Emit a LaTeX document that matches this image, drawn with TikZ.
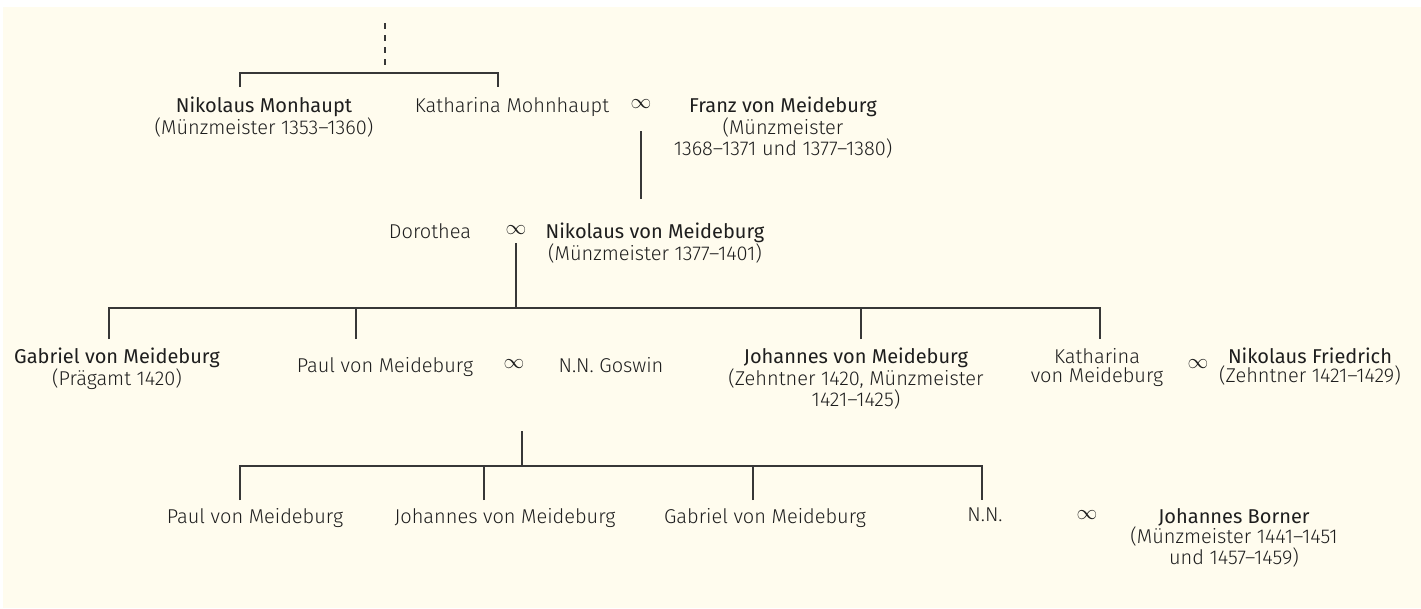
\documentclass[tikz,border=0pt]{standalone}
\usepackage{fontspec}
\setmainfont{Fira Sans Light}[BoldFont={Fira Sans}]
\usetikzlibrary{positioning}
\definecolor{paper}{RGB}{255,252,238}
\definecolor{ink}{RGB}{30,30,30}
\definecolor{rulegray}{RGB}{55,55,55}
\tikzset{pers/.style={align=center,inner sep=0pt,anchor=north,text=ink,font=\fontsize{20}{19}\selectfont},
  marr/.style={inner sep=0pt,text=ink,font=\fontsize{20}{19}\selectfont},
  tree/.style={draw=rulegray,line width=1.3pt}}

\begin{document}
\begin{tikzpicture}[x=1pt,y=-1pt]
  \useasboundingbox (0,0) rectangle (1421,608);
  \fill[white] (0,0) rectangle (1421,608);
  \fill[paper] (3,7) rectangle (1421,608);

  % first generation
  \node[pers] (nikm) at (264,97) {\textbf{Nikolaus Monhaupt}\\(Münzmeister 1353–1360)};
  \node[pers] (katm) at (512,97) {Katharina Mohnhaupt};
  \node[marr] (m1) at (641,104) {$\infty$};
  \node[pers] (franz) at (783,97) {\textbf{Franz von Meideburg}\\(Münzmeister\\1368–1371 und 1377–1380)};

  % second generation
  \node[pers] (doro) at (430,223) {Dorothea};
  \node[marr] (m2) at (516,230) {$\infty$};
  \node[pers] (nikv) at (655,223) {\textbf{Nikolaus von Meideburg}\\(Münzmeister 1377–1401)};

  % third generation
  \node[pers] (gab) at (117,348) {\textbf{Gabriel von Meideburg}\\(Prägamt 1420)};
  \node[pers] (paul) at (385,357) {Paul von Meideburg};
  \node[marr] (m3) at (514,364) {$\infty$};
  \node[pers] (gosw) at (611,357) {N.N. Goswin};
  \node[pers] (joh) at (856,348) {\textbf{Johannes von Meideburg}\\(Zehntner 1420, Münzmeister\\1421–1425)};
  \node[pers] (kath) at (1097,348) {Katharina\\von Meideburg};
  \node[marr] (m4) at (1198,364) {$\infty$};
  \node[pers] (nikf) at (1310,348) {\textbf{Nikolaus Friedrich}\\(Zehntner 1421–1429)};

  % fourth generation
  \node[pers] (paul2) at (255,508) {Paul von Meideburg};
  \node[pers] (joh2) at (505,508) {Johannes von Meideburg};
  \node[pers] (gab2) at (765,508) {Gabriel von Meideburg};
  \node[pers] (nn) at (985,508) {N.N.};
  \node[marr] (m5) at (1087,515) {$\infty$};
  \node[pers] (born) at (1234,508) {\textbf{Johannes Borner}\\(Münzmeister 1441–1451\\und 1457–1459)};

  % lines
  \coordinate (up) at (385,23);
  \coordinate (up-end) at (385,66);
  \coordinate (h1) at (385,73);
  \coordinate (nikm-t) at (240,87);
  \coordinate (katm-t) at (498,87);
  \draw[tree,dash pattern=on 6pt off 6pt] (up) -- (up-end);
  \draw[tree] (nikm-t) |- (h1) -| (katm-t);

  \coordinate (m1-a) at (641,131);
  \coordinate (m1-b) at (641,199);
  \draw[tree] (m1-a) -- (m1-b);

  \coordinate (m2-a) at (516,243);
  \coordinate (h2) at (516,308);
  \foreach \n/\x in {gab/109,paul/356,joh/861,kath/1100}
    \coordinate (\n-t) at (\x,339);
  \draw[tree] (m2-a) -- (h2);
  \draw[tree] (gab-t) -- (gab-t |- h2) -- (kath-t |- h2) -- (kath-t);
  \draw[tree] (paul-t) -- (paul-t |- h2);
  \draw[tree] (joh-t) -- (joh-t |- h2);

  \coordinate (m3-a) at (522,431);
  \coordinate (h3) at (522,466);
  \foreach \n/\x in {paul2/240,joh2/484,gab2/753,nn/982}
    \coordinate (\n-t) at (\x,500);
  \draw[tree] (m3-a) -- (h3);
  \draw[tree] (paul2-t) -- (paul2-t |- h3) -- (nn-t |- h3) -- (nn-t);
  \draw[tree] (joh2-t) -- (joh2-t |- h3);
  \draw[tree] (gab2-t) -- (gab2-t |- h3);
\end{tikzpicture}
\end{document}
